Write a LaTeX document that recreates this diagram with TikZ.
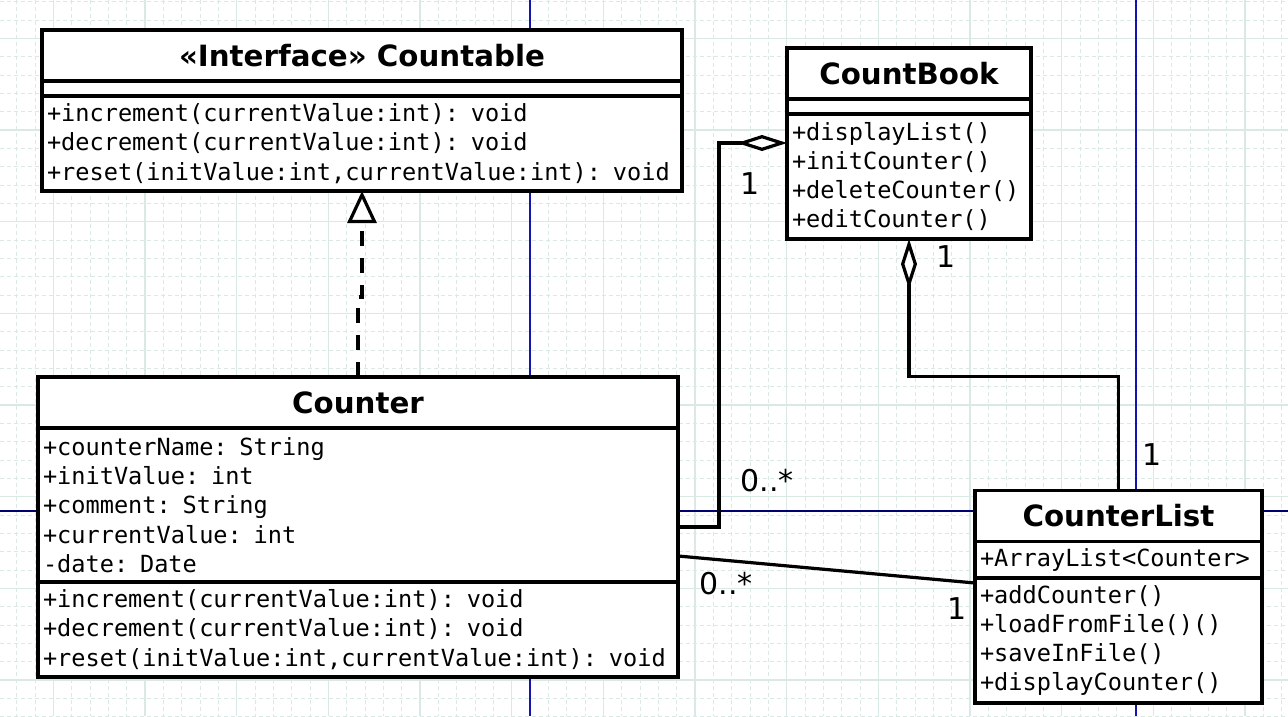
\documentclass[tikz,border=0pt]{standalone}
\usepackage{fontspec}
\setmainfont{DejaVu Sans}
\setmonofont{DejaVu Sans Mono}
\usetikzlibrary{arrows.meta,positioning}

\definecolor{gridline}{RGB}{218,232,230}
\definecolor{guideblue}{RGB}{20,20,175}
\definecolor{guidenavy}{RGB}{0,0,110}

\tikzset{
    classtitle/.style={draw, line width=3.2pt, fill=white, outer sep=0pt, inner sep=0pt,
        minimum height=51pt, font=\fontsize{29.3}{34}\selectfont\bfseries},
    classpart/.style={draw, line width=3.2pt, fill=white, outer sep=0pt, inner xsep=5pt,
        inner ysep=0pt, align=left, font=\fontsize{23.6}{29.3}\selectfont\ttfamily},
    emptypart/.style={draw, line width=3.2pt, fill=white, outer sep=0pt, inner sep=0pt,
        minimum height=15pt},
    mult/.style={inner sep=0pt, font=\fontsize{30}{36}\selectfont},
    minorgrid/.style={gridline, line width=0.9pt, dash pattern=on 4pt off 3pt},
    majorgrid/.style={gridline, line width=1.2pt},
    guide/.style={line width=1.6pt}
}

\begin{document}
\begin{tikzpicture}[x=1pt, y=-1pt,
    realize/.style={line width=3.2pt, dash pattern=on 15pt off 12pt,
        -{Triangle[length=32pt, width=29pt, fill=white]}},
    aggr/.style={line width=3.2pt, -{Diamond[length=50pt, width=16pt, fill=white]}},
    assoc/.style={line width=3.2pt}]
    \useasboundingbox (0,0) rectangle (1288,716);
    % Grid
    \begin{scope}
        \clip (0,0) rectangle (1288,716);
        \foreach \i in {0,...,70}
            \draw[minorgrid] ({16.67+18.333*\i},0) -- ++(0,716);
        \foreach \j in {0,...,39}
            \draw[minorgrid] (0,{1.67+18.333*\j}) -- ++(1288,0);
        \foreach \i in {0,...,13}
            \draw[majorgrid] ({53.33+91.667*\i},0) -- ++(0,716);
        \foreach \j in {0,...,7}
            \draw[majorgrid] (0,{38.33+91.667*\j}) -- ++(1288,0);
    \end{scope}
    % Guide lines
    \draw[guide, guideblue] (530,0) -- (530,716);
    \draw[guide, guideblue] (1136,0) -- (1136,716);
    \draw[guide, guidenavy] (0,511) -- (1288,511);
    % Countable
    \node[classtitle, minimum width=640pt] (cbltitle) at (362,55.5) {«Interface» Countable};
    \node[emptypart, minimum width=640pt, below=0pt of cbltitle] (cblattr) {};
    \node[classpart, text width=630pt, minimum height=95pt, below=0pt of cblattr] (cblops)
        {+increment(currentValue:int): void\\
         +decrement(currentValue:int): void\\
         +reset(initValue:int,currentValue:int): void};
    % Counter
    \node[classtitle, minimum width=640pt] (cnttitle) at (358,402.5) {Counter};
    \node[classpart, text width=630pt, minimum height=154pt, below=0pt of cnttitle] (cntattr)
        {+counterName: String\\
         +initValue: int\\
         +comment: String\\
         +currentValue: int\\
         -date: Date};
    \node[classpart, text width=630pt, minimum height=95pt, below=0pt of cntattr] (cntops)
        {+increment(currentValue:int): void\\
         +decrement(currentValue:int): void\\
         +reset(initValue:int,currentValue:int): void};
    % CountBook
    \node[classtitle, minimum width=244pt] (cbktitle) at (909,73.5) {CountBook};
    \node[emptypart, minimum width=244pt, below=0pt of cbktitle] (cbkattr) {};
    \node[classpart, text width=234pt, minimum height=125pt, below=0pt of cbkattr] (cbkops)
        {+displayList()\\
         +initCounter()\\
         +deleteCounter()\\
         +editCounter()};
    % CounterList
    \node[classtitle, minimum width=287pt] (clsttitle) at (1118.5,516) {CounterList};
    \node[classpart, text width=277pt, minimum height=36.5pt, below=0pt of clsttitle] (clstattr)
        {+ArrayList<Counter>};
    \node[classpart, text width=277pt, minimum height=125pt, below=0pt of clstattr] (clstops)
        {+addCounter()\\
         +loadFromFile()()\\
         +saveInFile()\\
         +displayCounter()};
    % Realization
    \draw[realize] (cnttitle.north) -- ++(0,-80) -| (cblops.south);
    % Aggregations
    \draw[aggr] ([yshift=-22pt]cntattr.east) -- ++(41,0) |- ([yshift=33.5pt]cbkops.west);
    \draw[aggr] (clsttitle.north) -- ++(0,-114) -| (cbkops.south);
    % Association
    \draw[assoc] ([yshift=-51pt]cntattr.east) -- ([yshift=57.5pt]clstops.west);
    % Multiplicities
    \node[mult] (mbookcnt) at (750,184) {1};
    \node[mult] (mcntbook) at (767,481) {0..*};
    \node[mult] (mbooklst) at (946,257) {1};
    \node[mult] (mlstbook) at (1152,455) {1};
    \node[mult] (mcntlst) at (726,584) {0..*};
    \node[mult] (mlstcnt) at (957,609) {1};
\end{tikzpicture}
\end{document}
